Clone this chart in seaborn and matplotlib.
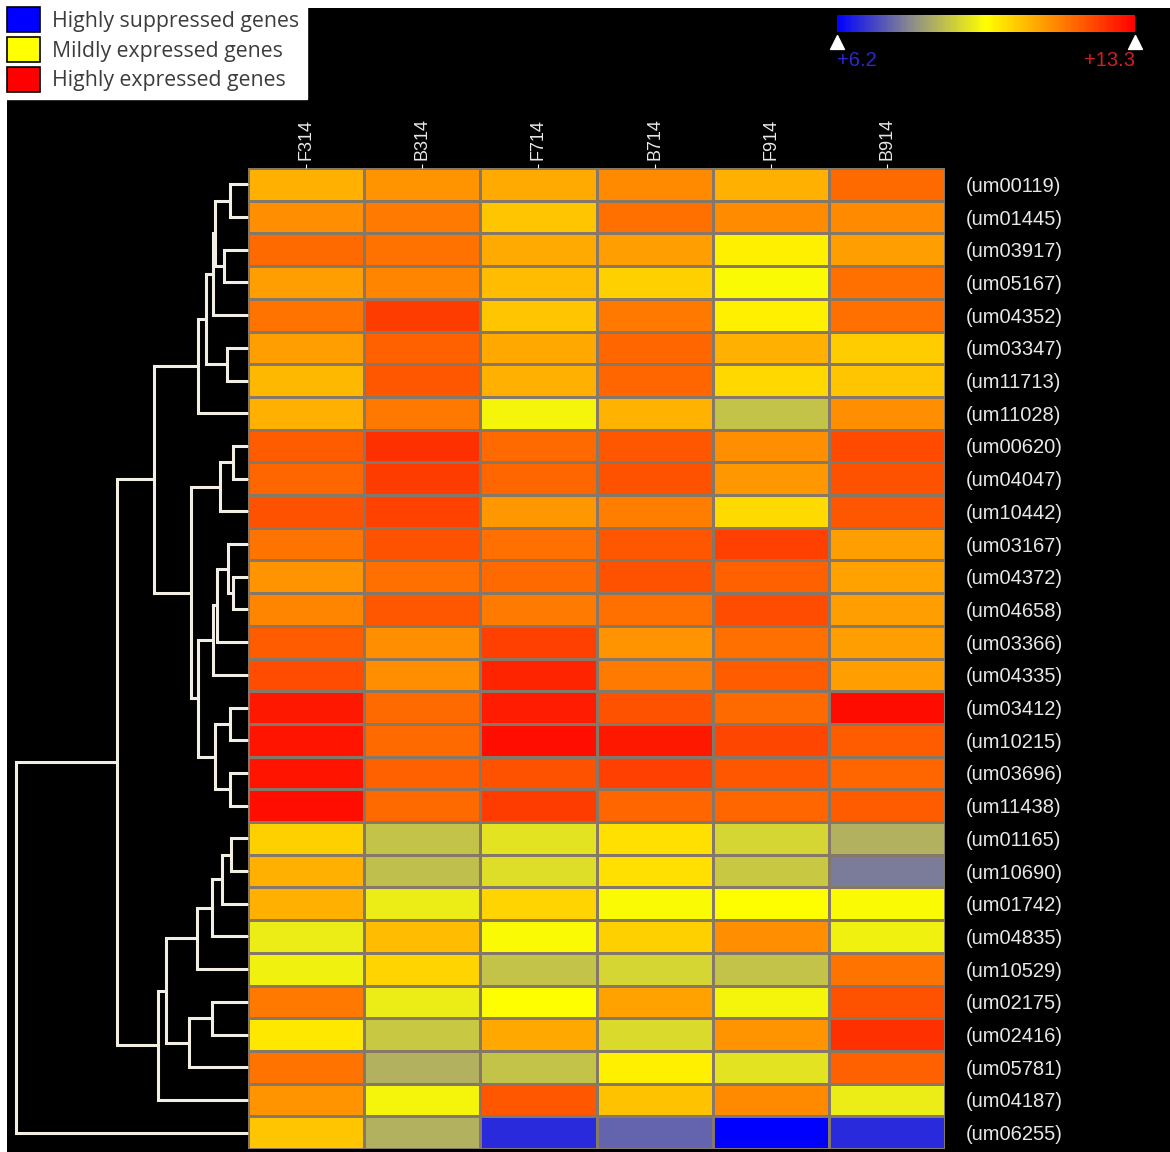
import numpy as np
import pandas as pd
import matplotlib
matplotlib.use("Agg")
import matplotlib.pyplot as plt
import seaborn as sns
from matplotlib.colors import LinearSegmentedColormap
from matplotlib.patches import Patch, Rectangle

# ---------------- data ----------------
samples = ["F314", "B314", "F714", "B714", "F914", "B914"]
genes = ["(um00119)", "(um01445)", "(um03917)", "(um05167)", "(um04352)",
         "(um03347)", "(um11713)", "(um11028)", "(um00620)", "(um04047)",
         "(um10442)", "(um03167)", "(um04372)", "(um04658)", "(um03366)",
         "(um04335)", "(um03412)", "(um10215)", "(um03696)", "(um11438)",
         "(um01165)", "(um10690)", "(um01742)", "(um04835)", "(um10529)",
         "(um02175)", "(um02416)", "(um05781)", "(um04187)", "(um06255)"]

F314 = [10.85, 11.31, 11.81, 11.10, 11.67, 11.10, 10.74, 10.85, 12.02, 11.88,
        12.16, 11.67, 11.24, 11.45, 12.02, 12.24, 12.95, 13.02, 13.02, 13.09,
        10.39, 10.85, 10.85, 9.47, 9.54, 11.63, 10.07, 11.67, 11.24, 10.53]
B314 = [11.24, 11.60, 11.70, 11.45, 12.45, 11.95, 12.09, 11.63, 12.63, 12.45,
        12.38, 12.16, 11.74, 12.09, 11.31, 11.31, 11.81, 11.81, 11.95, 11.81,
        8.83, 8.76, 9.47, 10.67, 10.35, 9.47, 8.90, 8.54, 9.61, 8.54]
F714 = [10.94, 10.53, 10.94, 10.67, 10.53, 10.96, 10.85, 9.61, 11.81, 11.88,
        11.17, 11.74, 11.81, 11.60, 12.41, 12.80, 12.91, 13.09, 12.16, 12.45,
        9.32, 9.25, 10.35, 9.68, 8.83, 9.75, 10.96, 8.83, 12.09, 6.75]
B714 = [11.38, 11.74, 11.10, 10.39, 11.63, 11.88, 11.88, 10.82, 12.09, 12.16,
        11.53, 12.09, 12.16, 11.74, 11.24, 11.60, 12.16, 12.95, 12.41, 11.88,
        10.18, 10.18, 9.68, 10.39, 9.11, 11.03, 9.18, 9.96, 10.60, 7.45]
F914 = [10.85, 11.35, 9.96, 9.68, 9.96, 10.85, 10.28, 8.83, 11.31, 11.17,
        10.25, 12.41, 11.95, 12.24, 11.74, 12.02, 11.81, 12.31, 12.09, 11.88,
        9.11, 8.90, 9.75, 11.31, 8.83, 9.61, 11.24, 9.32, 11.38, 6.20]
B914 = [11.81, 11.38, 11.10, 11.74, 11.74, 10.46, 10.53, 11.31, 12.27, 12.16,
        12.09, 11.10, 11.03, 11.10, 11.10, 11.10, 13.12, 12.02, 11.88, 12.02,
        8.54, 7.76, 9.68, 9.54, 11.67, 12.16, 12.63, 11.95, 9.47, 6.75]

vmin_val = 6.2
vmax_val = 13.3

# dendrogram merges: (left node, right node, distance); leaves 0..29, new nodes from 30
merge_left = [0, 2, 30, 32, 5, 33, 35, 8, 37, 12, 11, 40, 41, 16, 18, 43, 42, 38, 36,
              20, 49, 50, 51, 25, 53, 52, 55, 48, 57]
merge_right = [1, 3, 31, 4, 6, 34, 7, 9, 10, 13, 39, 14, 15, 17, 19, 44, 45, 46, 47,
               21, 22, 23, 24, 26, 27, 54, 28, 56, 29]
merge_dist = [18, 24, 33, 35, 21, 42, 50, 15, 28, 15, 20, 31, 35, 18, 18, 33, 50, 57, 94,
              17, 26, 36, 51, 36, 59, 82, 90, 131, 232]

legend_labels = ["Highly suppressed genes", "Mildly expressed genes", "Highly expressed genes"]
legend_colors = ["#0000ff", "#ffff00", "#ff0000"]

# ---------------- figure ----------------
W, H = 1170, 1152
fig = plt.figure(figsize=(W / 100, H / 100), dpi=100)
fig.patch.set_facecolor("white")
fig.add_artist(Rectangle((7 / W, 0), 1 - 7 / W, 1 - 8 / H, transform=fig.transFigure,
                         facecolor="black", edgecolor="none", zorder=-5))

df = pd.DataFrame({"F314": F314, "B314": B314, "F714": F714, "B714": B714,
                   "F914": F914, "B914": B914}, index=genes)[samples]

cmap = LinearSegmentedColormap.from_list(
    "expr", [(0.0, "#0000ff"), (0.25, "#8c8c8c"), (0.5, "#ffff00"),
             (0.75, "#ff8000"), (1.0, "#ff0000")])

hm_left, hm_bottom = 248 / W, 1 - 1149 / H
hm_w, hm_h = 697 / W, 981 / H
ax = fig.add_axes([hm_left, hm_bottom, hm_w, hm_h])
sns.heatmap(df, cmap=cmap, vmin=vmin_val, vmax=vmax_val, cbar=False,
            linewidths=0.9, linecolor="#857868", ax=ax)
ax.set_xlabel("")
ax.set_ylabel("")
ax.xaxis.tick_top()
ax.set_xticklabels(samples, rotation=90, color="#e8e8e8",
                   fontsize=13, family="Liberation Sans")
ax.tick_params(axis="x", top=True, bottom=False, labeltop=True, labelbottom=False,
               length=3, color="white", pad=3)
ax.set_yticklabels(genes, rotation=0, color="#e8e8e8", fontsize=14.5,
                   family="Liberation Sans")
ax.tick_params(axis="y", left=True, right=False, labelleft=False, labelright=True,
               length=3, color="white", pad=12)
for s in ax.spines.values():
    s.set_visible(False)

# ---------------- dendrogram ----------------
dax = fig.add_axes([0, hm_bottom, hm_left, hm_h])
dax.set_facecolor("none")
n_leaves = len(genes)
pos = {i: i + 0.5 for i in range(n_leaves)}
hgt = {i: 0.0 for i in range(n_leaves)}
lc = "#f2eee4"
for k, (a, b, d) in enumerate(zip(merge_left, merge_right, merge_dist)):
    node = n_leaves + k
    ya, yb = pos[a], pos[b]
    dax.plot([hgt[a], d, d, hgt[b]], [ya, ya, yb, yb], color=lc, lw=2.2,
             solid_joinstyle="miter", solid_capstyle="butt")
    pos[node] = (ya + yb) / 2
    hgt[node] = d
dax.set_xlim(248, 0)
dax.set_ylim(n_leaves, 0)
dax.axis("off")

# ---------------- colour bar ----------------
cax = fig.add_axes([837 / W, 1 - 32 / H, 298 / W, 17 / H])
cb = fig.colorbar(ax.collections[0], cax=cax, orientation="horizontal")
cb.outline.set_visible(False)
cax.set_xticks([])
cax.set_yticks([])
xt = cax.get_xaxis_transform()
cax.scatter([vmin_val, vmax_val], [-0.6, -0.6], marker="^", s=100, color="white",
            transform=xt, clip_on=False, zorder=5)
cax.text(vmin_val, -1.1, "+6.2", transform=xt, ha="left", va="top",
         color="#2a2ad0", fontsize=14.5, family="Liberation Sans")
cax.text(vmax_val, -1.1, "+13.3", transform=xt, ha="right", va="top",
         color="#d02020", fontsize=14.5, family="Liberation Sans")

# ---------------- legend ----------------
handles = [Patch(facecolor=c, edgecolor="black", linewidth=1.2) for c in legend_colors]
leg = fig.legend(handles, legend_labels, loc="upper left", bbox_to_anchor=(0, 1),
                 frameon=True, fancybox=False, framealpha=1, facecolor="white",
                 edgecolor="white", handlelength=1.55, handleheight=1.4,
                 handletextpad=0.55, labelspacing=0.25, borderpad=0.35,
                 borderaxespad=0.0, prop={"family": "Open Sans", "size": 15.3})
for t in leg.get_texts():
    t.set_color("#3c3c3c")

fig.savefig("out.png", dpi=100, facecolor=fig.get_facecolor())
